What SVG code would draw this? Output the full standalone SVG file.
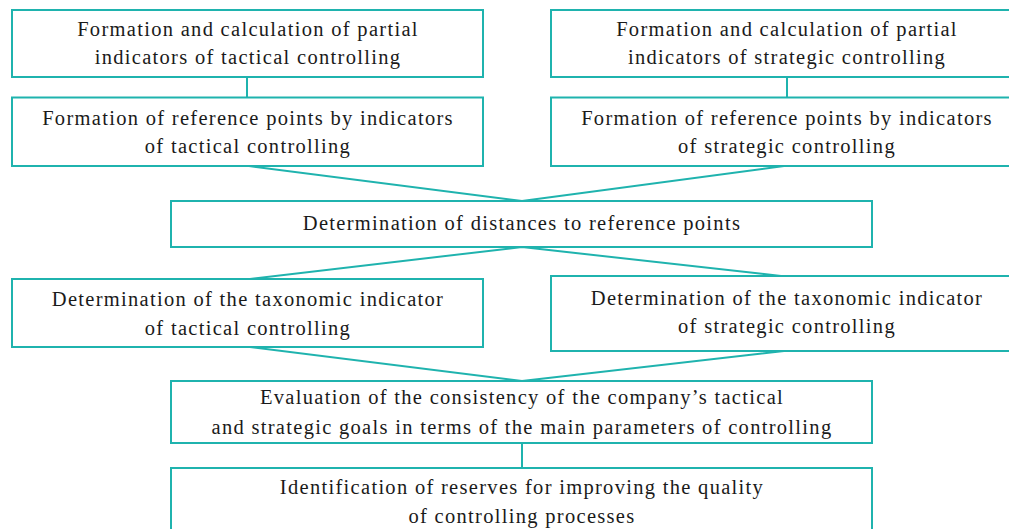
<svg xmlns="http://www.w3.org/2000/svg" width="1009" height="529" viewBox="0 0 1009 529">
  <style>
    .box { fill: #ffffff; stroke: #1fb3ae; stroke-width: 2; }
    .link { fill: none; stroke: #1fb3ae; stroke-width: 2; }
    .label { font-family: "Liberation Serif", "DejaVu Serif", serif; font-size: 20.5px; letter-spacing: 1.3px; fill: #1a1a1a; text-anchor: middle; }
  </style>
  <rect width="1009" height="529" fill="#ffffff"/>

  <g id="connectors">
    <line class="link" x1="247" y1="77" x2="247" y2="97"/>
    <line class="link" x1="787" y1="77" x2="787" y2="97"/>
    <polyline class="link" points="249,166 522,201 784,166"/>
    <polyline class="link" points="250,279 522,247 781,276"/>
    <polyline class="link" points="250,347 522,381 784,351"/>
    <line class="link" x1="522" y1="443" x2="522" y2="468"/>
  </g>

  <g id="tactical-partial">
    <rect class="box" x="12" y="10" width="471" height="67"/>
    <text class="label" x="248" y="35.5">Formation and calculation of partial</text>
    <text class="label" x="248" y="63.5">indicators of tactical controlling</text>
  </g>

  <g id="strategic-partial">
    <rect class="box" x="551" y="10" width="470" height="67"/>
    <text class="label" x="787" y="35.5">Formation and calculation of partial</text>
    <text class="label" x="787" y="63.5">indicators of strategic controlling</text>
  </g>

  <g id="tactical-reference">
    <rect class="box" x="12" y="97.5" width="471" height="68.5"/>
    <text class="label" x="248" y="125">Formation of reference points by indicators</text>
    <text class="label" x="248" y="153">of tactical controlling</text>
  </g>

  <g id="strategic-reference">
    <rect class="box" x="551" y="97.5" width="470" height="68.5"/>
    <text class="label" x="787" y="125">Formation of reference points by indicators</text>
    <text class="label" x="787" y="153">of strategic controlling</text>
  </g>

  <g id="distances">
    <rect class="box" x="171" y="201" width="701" height="46"/>
    <text class="label" x="522" y="230">Determination of distances to reference points</text>
  </g>

  <g id="tactical-taxonomic">
    <rect class="box" x="12" y="279" width="471" height="68"/>
    <text class="label" x="248" y="306">Determination of the taxonomic indicator</text>
    <text class="label" x="248" y="335">of tactical controlling</text>
  </g>

  <g id="strategic-taxonomic">
    <rect class="box" x="551" y="276" width="470" height="75"/>
    <text class="label" x="787" y="305">Determination of the taxonomic indicator</text>
    <text class="label" x="787" y="333">of strategic controlling</text>
  </g>

  <g id="consistency">
    <rect class="box" x="171" y="381" width="701" height="62"/>
    <text class="label" x="522" y="404">Evaluation of the consistency of the company’s tactical</text>
    <text class="label" x="522" y="434">and strategic goals in terms of the main parameters of controlling</text>
  </g>

  <g id="reserves">
    <rect class="box" x="171" y="468" width="701" height="70"/>
    <text class="label" x="522" y="494">Identification of reserves for improving the quality</text>
    <text class="label" x="522" y="523">of controlling processes</text>
  </g>
</svg>
